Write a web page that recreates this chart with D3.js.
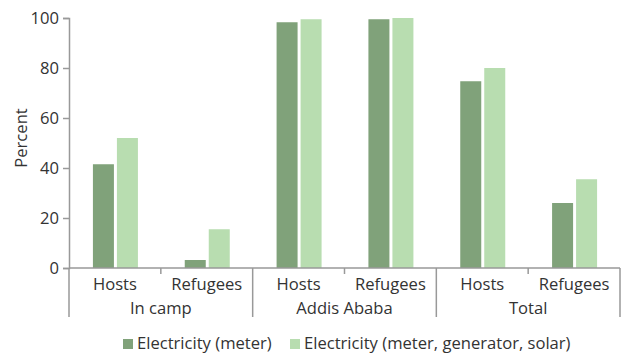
<!DOCTYPE html>
<html>
<head>
<meta charset="utf-8">
<script src="https://cdn.jsdelivr.net/npm/d3@7"></script>
<style>
  body { margin: 0; background: #fff; }
  text { font-family: "Open Sans", sans-serif; fill: #333; }
</style>
</head>
<body>
<svg id="chart" width="627" height="354"></svg>
<script>
const groups = ["In camp", "Addis Ababa", "Total"];
const categories = ["Hosts", "Refugees"];
const seriesNames = ["Electricity (meter)", "Electricity (meter, generator, solar)"];
// values per group, per category
const meter = [[41.5, 3.2], [98.3, 99.5], [74.7, 26]];
const meterGenSolar = [[52, 15.5], [99.5, 100], [80, 35.5]];
const yTicks = [0, 20, 40, 60, 80, 100];
const colors = ["#80a27a", "#b8ddb0"];

const svg = d3.select("#chart");
const mLeft = 69, mRight = 620, mTop = 18, mBottom = 268;
const fs = 16.6;

const x0 = d3.scaleBand().domain(groups).range([mLeft, mRight]);
const x1 = d3.scaleBand().domain(categories).range([0, x0.bandwidth()]);
const y = d3.scaleLinear().domain([0, 100]).range([mBottom, mTop]);

const rows = [];
groups.forEach((g, gi) => {
    categories.forEach((c, ci) => {
        rows.push({ group: g, cat: c, values: [meter[gi][ci], meterGenSolar[gi][ci]] });
    });
});

// y axis
const yAxis = svg.append("g")
    .attr("transform", `translate(${mLeft},0)`)
    .call(d3.axisLeft(y).tickValues(yTicks).tickSize(6).tickPadding(4));
yAxis.select(".domain").attr("stroke", "#999").attr("stroke-width", 1.5);
yAxis.selectAll(".tick line").attr("stroke", "#999").attr("stroke-width", 1.5);
yAxis.selectAll(".tick text").attr("font-size", fs).attr("fill", "#333")
    .style("font-family", "'Open Sans', sans-serif");

svg.append("text")
    .attr("transform", `translate(27,${(mTop + mBottom) / 2 - 5}) rotate(-90)`)
    .attr("text-anchor", "middle")
    .attr("font-size", fs)
    .text("Percent");

// bars
const bar = d3.scaleBand().domain([0, 1]).range([-22, 23]).paddingInner(0.125);
const catG = svg.append("g").selectAll("g")
    .data(rows)
    .join("g")
    .attr("transform", d => `translate(${x0(d.group) + x1(d.cat) + x1.bandwidth() / 2},0)`);
catG.selectAll("rect")
    .data(d => d.values)
    .join("rect")
    .attr("x", (d, i) => bar(i))
    .attr("width", bar.bandwidth())
    .attr("y", d => y(d))
    .attr("height", d => mBottom - y(d))
    .attr("fill", (d, i) => colors[i]);

// x axis baseline
const ax = svg.append("g").attr("stroke", "#999").attr("stroke-width", 1.5);
ax.append("line").attr("x1", mLeft).attr("x2", mRight).attr("y1", mBottom).attr("y2", mBottom);
// minor ticks between categories
groups.forEach(g => {
    const xm = x0(g) + x1("Refugees");
    ax.append("line").attr("x1", xm).attr("x2", xm).attr("y1", mBottom).attr("y2", mBottom + 6);
});
// group separators
groups.concat([null]).forEach(g => {
    const xs = g ? x0(g) : mRight;
    ax.append("line").attr("x1", xs).attr("x2", xs).attr("y1", mBottom).attr("y2", mBottom + 49);
});

// category labels
svg.append("g").selectAll("text")
    .data(rows)
    .join("text")
    .attr("x", d => x0(d.group) + x1(d.cat) + x1.bandwidth() / 2)
    .attr("y", mBottom + 22)
    .attr("text-anchor", "middle")
    .attr("font-size", fs)
    .text(d => d.cat);

svg.append("g").selectAll("text")
    .data(groups)
    .join("text")
    .attr("x", d => x0(d) + x0.bandwidth() / 2)
    .attr("y", mBottom + 46)
    .attr("text-anchor", "middle")
    .attr("font-size", fs)
    .text(d => d);

// legend
const legend = svg.append("g").attr("transform", "translate(123,339)");
const items = legend.selectAll("g")
    .data(seriesNames)
    .join("g")
    .attr("transform", (d, i) => `translate(${i === 0 ? 0 : 167},0)`);
items.append("rect").attr("width", 10).attr("height", 10).attr("fill", (d, i) => colors[i]);
items.append("text").attr("x", 14).attr("y", 10).attr("font-size", fs).text(d => d);
</script>
</body>
</html>
